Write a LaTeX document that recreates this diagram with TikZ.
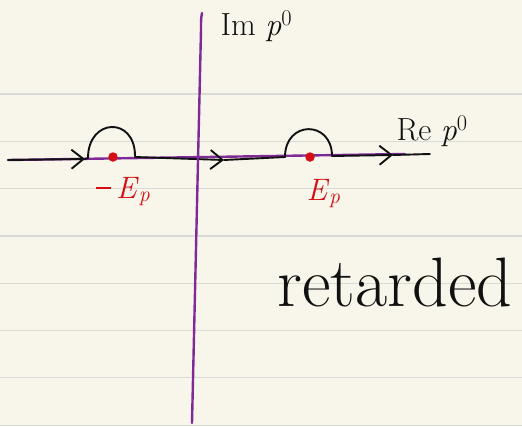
\documentclass[tikz,border=0pt]{standalone}
\usepackage{amsmath}
\usepackage{xcolor}
\usepackage{tikz}
\usetikzlibrary{arrows.meta,positioning}
\definecolor{Paper}{HTML}{F8F6EA}
\definecolor{Rule}{HTML}{DADAD7}
\definecolor{Axis}{HTML}{7F2A96}
\definecolor{Pole}{HTML}{D40F14}
\definecolor{Ink}{HTML}{111111}

\begin{document}
\begin{tikzpicture}[x=1pt,y=-1pt,
  axisline/.style={Axis,line width=2.4pt,line cap=round},
  contourline/.style={Ink,line width=1.9pt,line cap=round,line join=round},
  barb/.style={-{Straight Barb[length=12pt,width=19pt,line width=1.9pt]}},
  pole/.style={circle,fill=Pole,inner sep=0pt,minimum size=9.5pt},
  polelabel/.style={text=Pole,font=\fontsize{31}{34}\selectfont,anchor=base west},
  axislabel/.style={text=Ink,font=\fontsize{32}{36}\selectfont,anchor=base west}]
\fill[Paper] (0,0) rectangle (522,426);
\useasboundingbox (0,0) rectangle (522,426);
\foreach \k in {0,...,7}
  \draw[Rule,line width=1.2pt] (0,{94+47.3*\k}) -- (522,{94+47.3*\k});
% axes
\coordinate (ylo) at (192,423);
\coordinate (yhi) at (202,13);
\coordinate (xlo) at (8,160);
\coordinate (xhi) at (405,154);
\draw[axisline] (xlo) -- (xhi);
% contour
\coordinate (cin) at (8,160);
\coordinate (cout) at (430,154);
\draw[contourline,barb] (cin) -- (85,159);
\draw[contourline] (85,159) -- (88,158) .. controls (88,118) and (135,116) .. (135,156);
\draw[contourline,barb] (135,157) -- (224,160);
\draw[contourline] (224,160) -- (285,157);
\draw[contourline] (285,157) .. controls (285,120) and (332,120) .. (332,156);
\draw[contourline,barb] (332,156) -- (393,155);
\draw[contourline] (393,155) -- (cout);
\draw[axisline] (ylo) -- (201,30) .. controls (201,19) .. (yhi);
% poles
\node[pole] (mEp) at (113,157) {};
\node[pole] (Ep) at (310,157) {};
\node[polelabel] (mEplabel) at (92,198) {\rule[0.28em]{0.5em}{0.06em}\,\textit{E}\textsubscript{\textit{p}}};
\node[polelabel] (Eplabel) at (303,200) {\textit{E}\textsubscript{\textit{p}}};
% labels
\node[axislabel] (imlabel) at (217,35) {Im \textit{p}\textsuperscript{0}};
\node[axislabel] (relabel) at (393,140) {Re \textit{p}\textsuperscript{0}};
\node[text=Ink,font=\fontsize{70}{74}\selectfont,anchor=base west] (retlabel) at (274,306) {retarded};
\end{tikzpicture}
\end{document}
